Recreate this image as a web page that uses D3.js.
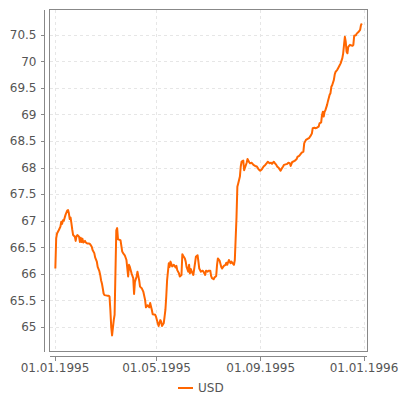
<!DOCTYPE html>
<html>
<head>
<meta charset="utf-8">
<script src="https://cdn.jsdelivr.net/npm/d3@7"></script>
<style>
  body { margin: 0; background: #fff; }
  svg { display: block; font-family: "DejaVu Sans", sans-serif; }
</style>
</head>
<body>
<div id="chart-area"></div>
<script>
const SERIES = "USD"

const dates = [
  "1995-01-02","1995-01-03","1995-01-04","1995-01-06","1995-01-08","1995-01-09","1995-01-10","1995-01-11","1995-01-12","1995-01-14",
  "1995-01-16","1995-01-17","1995-01-18","1995-01-19","1995-01-20","1995-01-21","1995-01-22","1995-01-23","1995-01-25","1995-01-26",
  "1995-01-27","1995-01-28","1995-01-30","1995-01-31","1995-02-01","1995-02-02","1995-02-03","1995-02-04","1995-02-06","1995-02-07",
  "1995-02-09","1995-02-11","1995-02-12","1995-02-14","1995-02-15","1995-02-17","1995-02-18","1995-02-20","1995-02-21","1995-02-23",
  "1995-02-24","1995-02-25","1995-02-26","1995-02-27","1995-02-28","1995-03-01","1995-03-04","1995-03-06","1995-03-07","1995-03-08",
  "1995-03-09","1995-03-10","1995-03-12","1995-03-13","1995-03-15","1995-03-16","1995-03-17","1995-03-19","1995-03-20","1995-03-22",
  "1995-03-23","1995-03-25","1995-03-27","1995-03-29","1995-03-30","1995-03-31","1995-04-02","1995-04-04","1995-04-05","1995-04-06",
  "1995-04-08","1995-04-09","1995-04-11","1995-04-12","1995-04-14","1995-04-16","1995-04-18","1995-04-19","1995-04-21","1995-04-23",
  "1995-04-24","1995-04-26","1995-04-27","1995-04-30","1995-05-01","1995-05-03","1995-05-04","1995-05-06","1995-05-07","1995-05-08",
  "1995-05-10","1995-05-11","1995-05-12","1995-05-13","1995-05-14","1995-05-16","1995-05-17","1995-05-18","1995-05-20","1995-05-22",
  "1995-05-24","1995-05-25","1995-05-26","1995-05-28","1995-05-29","1995-05-31","1995-06-01","1995-06-02","1995-06-04","1995-06-05",
  "1995-06-06","1995-06-08","1995-06-09","1995-06-10","1995-06-11","1995-06-13","1995-06-14","1995-06-16","1995-06-17","1995-06-19",
  "1995-06-20","1995-06-21","1995-06-23","1995-06-25","1995-06-26","1995-06-28","1995-06-29","1995-07-01","1995-07-02","1995-07-04",
  "1995-07-05","1995-07-06","1995-07-08","1995-07-09","1995-07-11","1995-07-12","1995-07-13","1995-07-15","1995-07-17","1995-07-18",
  "1995-07-20","1995-07-22","1995-07-23","1995-07-24","1995-07-26","1995-07-28","1995-07-29","1995-07-31","1995-08-01","1995-08-02",
  "1995-08-04","1995-08-05","1995-08-06","1995-08-08","1995-08-09","1995-08-10","1995-08-12","1995-08-13","1995-08-16","1995-08-17",
  "1995-08-19","1995-08-20","1995-08-22","1995-08-24","1995-08-26","1995-08-28","1995-08-30","1995-09-01","1995-09-03","1995-09-05",
  "1995-09-07","1995-09-09","1995-09-10","1995-09-12","1995-09-14","1995-09-15","1995-09-17","1995-09-18","1995-09-20","1995-09-21",
  "1995-09-23","1995-09-25","1995-09-26","1995-09-28","1995-09-29","1995-10-01","1995-10-03","1995-10-04","1995-10-06","1995-10-07",
  "1995-10-09","1995-10-10","1995-10-12","1995-10-14","1995-10-15","1995-10-17","1995-10-18","1995-10-20","1995-10-22","1995-10-23",
  "1995-10-25","1995-10-27","1995-10-29","1995-10-31","1995-11-01","1995-11-02","1995-11-04","1995-11-05","1995-11-07","1995-11-09",
  "1995-11-10","1995-11-12","1995-11-13","1995-11-14","1995-11-15","1995-11-16","1995-11-17","1995-11-19","1995-11-20","1995-11-22",
  "1995-11-23","1995-11-24","1995-11-25","1995-11-27","1995-11-28","1995-11-29","1995-12-01","1995-12-02","1995-12-04","1995-12-05",
  "1995-12-07","1995-12-08","1995-12-09","1995-12-10","1995-12-11","1995-12-12","1995-12-13","1995-12-14","1995-12-16","1995-12-17",
  "1995-12-19","1995-12-20","1995-12-21","1995-12-23","1995-12-24","1995-12-26","1995-12-28","1995-12-29","1995-12-30"
]

const usd = [
  66.10,66.67,66.76,66.82,66.89,66.98,66.94,67.01,67.00,67.11,
  67.19,67.20,67.14,67.03,67.06,66.95,66.83,66.73,66.70,66.62,
  66.71,66.73,66.70,66.60,66.68,66.60,66.66,66.59,66.62,66.59,
  66.57,66.57,66.56,66.51,66.45,66.39,66.31,66.23,66.13,66.05,
  65.98,65.88,65.82,65.73,65.63,65.60,65.59,65.59,65.57,65.32,
  65.00,64.84,65.13,65.23,66.82,66.86,66.65,66.64,66.63,66.42,
  66.39,66.35,66.26,65.95,66.17,66.13,66.01,65.92,65.62,65.85,
  65.95,66.04,65.88,65.76,65.73,65.66,65.51,65.37,65.41,65.37,
  65.45,65.32,65.24,65.23,65.19,65.07,65.02,65.13,65.10,65.02,
  65.07,65.19,65.32,65.57,65.88,66.20,66.13,66.23,66.14,66.17,
  66.12,66.15,66.07,66.01,65.95,65.98,66.37,66.34,66.29,66.23,
  66.13,66.04,66.17,66.01,66.09,66.01,65.98,66.20,66.32,66.35,
  66.23,66.10,66.04,66.06,66.04,65.98,66.06,66.04,66.06,66.06,
  65.96,65.92,65.90,65.93,65.96,66.17,66.29,66.25,66.13,66.10,
  66.15,66.17,66.21,66.17,66.26,66.20,66.23,66.19,66.17,66.26,
  67.07,67.64,67.70,67.83,68.02,68.11,68.13,67.95,68.09,68.16,
  68.10,68.08,68.09,68.05,68.03,68.02,67.97,67.94,67.97,68.02,
  68.05,68.09,68.11,68.08,68.09,68.07,68.11,68.09,68.05,68.02,
  67.99,67.94,67.97,68.02,68.05,68.06,68.07,68.09,68.08,68.03,
  68.11,68.11,68.13,68.16,68.20,68.22,68.24,68.28,68.30,68.46,
  68.52,68.54,68.56,68.61,68.64,68.74,68.75,68.74,68.75,68.77,
  68.83,68.85,68.99,69.05,68.96,69.05,69.08,69.18,69.25,69.37,
  69.40,69.52,69.55,69.65,69.75,69.80,69.84,69.87,69.93,69.96,
  70.06,70.15,70.31,70.46,70.37,70.18,70.15,70.27,70.31,70.30,
  70.29,70.31,70.48,70.49,70.52,70.55,70.59,70.68,70.71
]

const yTicks = [65, 65.5, 66, 66.5, 67, 67.5, 68, 68.5, 69, 69.5, 70, 70.5]
const xTicks = ["1995-01-01", "1995-05-01", "1995-09-01", "1996-01-01"]

const parse = d3.timeParse("%Y-%m-%d")
const data = dates.map((d, i) => ({ date: parse(d), value: usd[i] }))

const W = 400, H = 400
const PLOT = { LEFT: 49.5, RIGHT: 367, TOP: 9.5, BOTTOM: 351 }
const LINE_COLOR = "#ff6600"
const AXIS_COLOR = "#888"
const TEXT_COLOR = "#555"

const x = d3.scaleTime()
  .domain([parse(xTicks[0]), parse(xTicks[3])])
  .range([54.5, 363.5])

const y = d3.scaleLinear()
  .domain([65, 70.5])
  .range([327, 34.7])

const svg = d3.select("#chart-area").append("svg")
  .attr("width", W)
  .attr("height", H)

// grid
const grid = svg.append("g")
  .attr("stroke", "#e6e6e6")
  .attr("stroke-dasharray", "3,3")
  .attr("shape-rendering", "crispEdges")

grid.selectAll("line.h")
  .data(yTicks)
  .join("line")
    .attr("class", "h")
    .attr("x1", PLOT.LEFT)
    .attr("x2", PLOT.RIGHT)
    .attr("y1", d => Math.round(y(d)) + 0.5)
    .attr("y2", d => Math.round(y(d)) + 0.5)

grid.selectAll("line.v")
  .data(xTicks.map(parse))
  .join("line")
    .attr("class", "v")
    .attr("x1", d => Math.round(x(d)) + 0.5)
    .attr("x2", d => Math.round(x(d)) + 0.5)
    .attr("y1", PLOT.TOP)
    .attr("y2", PLOT.BOTTOM)

// plot frame
svg.append("rect")
  .attr("x", PLOT.LEFT)
  .attr("y", PLOT.TOP)
  .attr("width", PLOT.RIGHT - PLOT.LEFT)
  .attr("height", PLOT.BOTTOM - PLOT.TOP)
  .attr("fill", "none")
  .attr("stroke", AXIS_COLOR)
  .attr("shape-rendering", "crispEdges")

// the series
const line = d3.line()
  .x(d => x(d.date))
  .y(d => y(d.value))

svg.append("path")
  .attr("fill", "none")
  .attr("stroke", LINE_COLOR)
  .attr("stroke-width", 2)
  .attr("stroke-linejoin", "round")
  .attr("d", line(data))

// axes
const yAxis = g => g
  .attr("transform", "translate(44.5,0)")
  .call(d3.axisLeft(y.copy().range([327, 34.7]))
      .tickValues(yTicks)
      .tickFormat(d3.format("~g"))
      .tickSize(4)
      .tickSizeOuter(0)
      .tickPadding(4))
  .call(g => g.select(".domain").attr("d", `M0,${PLOT.TOP}V${PLOT.BOTTOM + 0.5}`))

const xAxis = g => g
  .attr("transform", "translate(0,356.5)")
  .call(d3.axisBottom(x)
      .tickValues(xTicks.map(parse))
      .tickFormat(d3.timeFormat("%d.%m.%Y"))
      .tickSize(4)
      .tickSizeOuter(0)
      .tickPadding(3))
  .call(g => g.select(".domain").attr("d", `M${PLOT.LEFT},0H${PLOT.RIGHT}`))

for (const ax of [yAxis, xAxis]) {
  svg.append("g")
    .call(ax)
    .call(g => g.selectAll(".domain, .tick line").attr("stroke", AXIS_COLOR).attr("shape-rendering", "crispEdges"))
    .call(g => g.selectAll(".tick text")
        .attr("fill", TEXT_COLOR)
        .style("font-size", "12px")
        .style("font-family", "'DejaVu Sans', sans-serif"))
}

// legend
const legend = svg.append("g")
  .attr("transform", "translate(178,388)")

legend.append("line")
  .attr("x1", 0)
  .attr("x2", 15)
  .attr("stroke", LINE_COLOR)
  .attr("stroke-width", 2)

legend.append("text")
  .attr("x", 20)
  .attr("dy", "0.35em")
  .attr("fill", TEXT_COLOR)
  .style("font-size", "12px")
  .text(SERIES)
</script>
</body>
</html>
